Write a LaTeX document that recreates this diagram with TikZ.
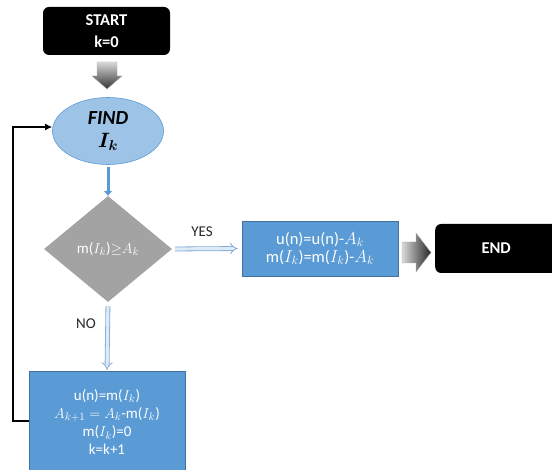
\documentclass[tikz,border=0pt]{standalone}
\usepackage{amsmath,bm}
\usepackage{fontspec}
\setmainfont{Carlito}
\usetikzlibrary{shapes.geometric,arrows.meta}
\definecolor{boxblue}{HTML}{5B9BD5}
\definecolor{boxedge}{HTML}{41719C}
\definecolor{ellfill}{HTML}{9DC3E6}
\definecolor{diamgrey}{HTML}{A3A3A3}
\definecolor{hollow}{HTML}{DDEBF7}
\definecolor{hollowedge}{HTML}{7FA7D6}
\tikzset{
  term/.style={rectangle, rounded corners=6pt, fill=black, text=white,
    font=\bfseries\fontsize{16.5}{22}\selectfont, align=center, inner sep=0pt},
  procbox/.style={rectangle, fill=boxblue, draw=boxedge, line width=0.6pt,
    text=white, align=center, inner sep=0pt},
  blockarrow/.style={draw=gray!60, line width=0.4pt},
  hollowarrow/.style={double=hollow, draw=hollowedge, line width=0.8pt,
    double distance=3.2pt, -{Implies[length=5pt]}},
  lbl/.style={font=\fontsize{15}{17}\selectfont, text=black!85}
}
\begin{document}
\begin{tikzpicture}[x=1pt,y=-1pt]
\useasboundingbox (0,0) rectangle (552,470);

\node[term, minimum width=127pt, minimum height=48pt] (start) at (106.5,31) {START\\k=0};

\shade[blockarrow, top color=gray!30, bottom color=black!80]
  (97,62) -- (117,62) -- (117,76) -- (122,76) -- (107,89) -- (92,76) -- (97,76) -- cycle;

\node[ellipse, fill=ellfill, draw=boxblue, line width=0.6pt, minimum width=111pt,
  minimum height=67pt, inner sep=0pt, align=center] (find) at (108,131)
  {\fontsize{20}{20}\selectfont\bfseries\itshape FIND\\[8pt]\fontsize{20}{20}\selectfont$\bm{I_k}$};

\node[diamond, fill=diamgrey, minimum width=128pt, minimum height=106pt, inner sep=0pt,
  text=white, font=\fontsize{15}{17}\selectfont] (dec) at (108,249)
  {m($I_k$)$\geq$$A_k$};

\node[procbox, minimum width=156pt, minimum height=55pt,
  font=\fontsize{16.5}{18}\selectfont] (yesbox) at (320,248.5)
  {u(n)=u(n)-$A_k$\\m($I_k$)=m($I_k$)-$A_k$};

\shade[blockarrow, left color=gray!30, right color=black!85]
  (402,242) -- (416,242) -- (416,233) -- (431,252.5) -- (416,272) -- (416,263) -- (402,263) -- cycle;

\node[term, minimum width=125pt, minimum height=49pt, anchor=west] (endbox) at (435,248.5) {\hspace*{-3pt}END};

\node[procbox, minimum width=156pt, minimum height=108pt, anchor=north] (nobox) at (107,371) {};
\node[text=white, align=center, inner sep=0pt, font=\fontsize{15}{18.3}\selectfont] (notext) at (107,422)
  {u(n)=m($I_k$)\\$A_{k+1}=A_k$-m($I_k$)\\m($I_k$)=0\\k=k+1};

\draw[boxblue, line width=3pt, -{Triangle[width=8pt,length=5pt]}] (find.south) ++(0,2) -- (dec.north);
\draw[hollowarrow, shorten <=3pt, shorten >=4pt] (dec.east) -- (yesbox.west);
\draw[hollowarrow, shorten <=4pt, shorten >=1pt] (dec.south) -- (nobox.north);

\node[lbl] (yeslbl) at (202,232) {YES};
\node[lbl] (nolbl) at (86,324) {NO};

\coordinate (fb) at (13,421);
\coordinate (fbtop) at (13,127);
\draw[black, line width=2.2pt, -{Latex[length=7pt,width=7pt]}]
  (nobox.west |- fb) -- (fb) -- (fbtop) -- (find.west |- fbtop);
\end{tikzpicture}
\end{document}
